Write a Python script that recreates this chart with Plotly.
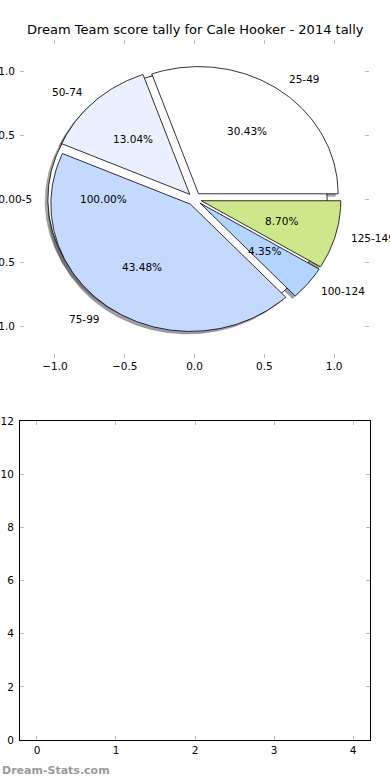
import numpy as np
import plotly.graph_objects as go

# ---- data ----
title = "Dream Team score tally for Cale Hooker - 2014 tally"
base_labels = ["0-5"]
base_values = [1]
base_colors = ["#ffffff"]
labels = ["25-49", "50-74", "75-99", "100-124", "125-149"]
values = [7, 3, 10, 1, 2]
colors = ["#ffffff", "#eaf0fd", "#c5d8fe", "#b3d4fe", "#cde88a"]
explode = 0.05
pie_ticks = [-1.0, -0.5, 0.0, 0.5, 1.0]
bar_xticks = [0, 1, 2, 3, 4]
bar_yticks = [0, 2, 4, 6, 8, 10, 12]
watermark = "Dream-Stats.com"

W, H = 390, 780
fig = go.Figure()

def wedges(vals):
    tot = float(sum(vals))
    fr = [v / tot if tot > 1 else v for v in vals]
    out = []
    t = 0.0
    for f in fr:
        out.append((t, t + 360 * f, f))
        t += 360 * f
    return out

def wedge_poly(t1, t2, cx, cy):
    n = max(int(abs(t2 - t1) / 1.0) + 2, 3)
    th = np.radians(np.linspace(t1, t2, n))
    xs = cx + np.cos(th)
    ys = cy + np.sin(th)
    if abs(t2 - t1) >= 359.999:
        return list(xs), list(ys)
    return [cx] + list(xs) + [cx], [cy] + list(ys) + [cy]

def darker(hexc):
    r, g, b = [int(hexc[i:i + 2], 16) for i in (1, 3, 5)]
    return "rgba(%d,%d,%d,0.5)" % (r * 0.3, g * 0.3, b * 0.3)

pies = []
for labs, vals, cols in [(base_labels, base_values, base_colors), (labels, values, colors)]:
    for (t1, t2, f), lab, col in zip(wedges(vals), labs, cols):
        mid = np.radians((t1 + t2) / 2)
        cx, cy = explode * np.cos(mid), explode * np.sin(mid)
        pies.append((t1, t2, f, lab, col, cx, cy, mid))

# shadows first
for t1, t2, f, lab, col, cx, cy, mid in pies:
    xs, ys = wedge_poly(t1, t2, cx - 0.02, cy - 0.02)
    fig.add_trace(go.Scatter(x=xs, y=ys, mode="lines", fill="toself",
                             fillcolor=darker(col), line=dict(color=darker(col), width=0.5),
                             hoverinfo="skip", showlegend=False, xaxis="x", yaxis="y"))
for t1, t2, f, lab, col, cx, cy, mid in pies:
    xs, ys = wedge_poly(t1, t2, cx, cy)
    fig.add_trace(go.Scatter(x=xs, y=ys, mode="lines", fill="toself",
                             fillcolor=col, line=dict(color="black", width=0.8),
                             hoverinfo="skip", showlegend=False, xaxis="x", yaxis="y"))

annotations = []
font = dict(family="DejaVu Sans", size=10.5, color="black")
for t1, t2, f, lab, col, cx, cy, mid in pies:
    lx, ly = cx + 1.1 * np.cos(mid), cy + 1.1 * np.sin(mid)
    annotations.append(dict(x=lx, y=ly, xref="x", yref="y", text=lab, showarrow=False,
                            xanchor="left" if np.cos(mid) >= 0 else "right", yanchor="middle",
                            font=font))
    px, py = cx + 0.6 * np.cos(mid), cy + 0.6 * np.sin(mid)
    annotations.append(dict(x=px, y=py, xref="x", yref="y", text="%.2f%%" % (100 * f),
                            showarrow=False, xanchor="center", yanchor="middle", font=font))

annotations.append(dict(x=0.5, y=1 - 30 / H, xref="paper", yref="paper", text=title,
                        showarrow=False, xanchor="center", yanchor="middle",
                        font=dict(family="DejaVu Sans", size=13, color="black")))
annotations.append(dict(x=0, y=1 - 770 / H, xref="paper", yref="paper", text="<b>" + watermark + "</b>",
                        showarrow=False, xanchor="left", yanchor="middle",
                        font=dict(family="DejaVu Sans", size=11, color="#9a9a9a")))

# empty bottom axes trace
fig.add_trace(go.Scatter(x=[], y=[], xaxis="x2", yaxis="y2", showlegend=False))

tickcommon = dict(ticks="inside", ticklen=4, tickcolor="#bbbbbb", tickwidth=1,
                  showgrid=False, zeroline=False, automargin=False,
                  tickfont=dict(family="DejaVu Sans", size=10.5, color="black"))

fig.update_layout(
    template="none",
    width=W, height=H, margin=dict(l=0, r=0, t=0, b=0, pad=0, autoexpand=False),
    paper_bgcolor="white", plot_bgcolor="white", showlegend=False,
    annotations=annotations,
    xaxis=dict(domain=[20 / W, 369 / W], range=[-1.25, 1.25], tickvals=pie_ticks,
               tickformat=".1f", anchor="y", showline=False, mirror="ticks", **tickcommon),
    yaxis=dict(domain=[1 - 358 / H, 1 - 40 / H], range=[-1.25, 1.25], tickvals=pie_ticks,
               tickformat=".1f", anchor="x", showline=False, mirror="ticks",
               ticklabelstandoff=4, **tickcommon),
    xaxis2=dict(domain=[20 / W, 370 / W], range=[-0.215, 4.215], tickvals=bar_xticks,
                anchor="y2", showline=True, linecolor="black", linewidth=1, mirror="ticks",
                **tickcommon),
    yaxis2=dict(domain=[1 - 740 / H, 1 - 421 / H], range=[0, 12], tickvals=bar_yticks,
                anchor="x2", showline=True, linecolor="black", linewidth=1, mirror="ticks",
                ticklabelstandoff=3, **tickcommon),
)

fig.write_html("out.html", config={"displayModeBar": False},
               post_script="document.body.style.margin='0';document.body.style.overflow='hidden';")
